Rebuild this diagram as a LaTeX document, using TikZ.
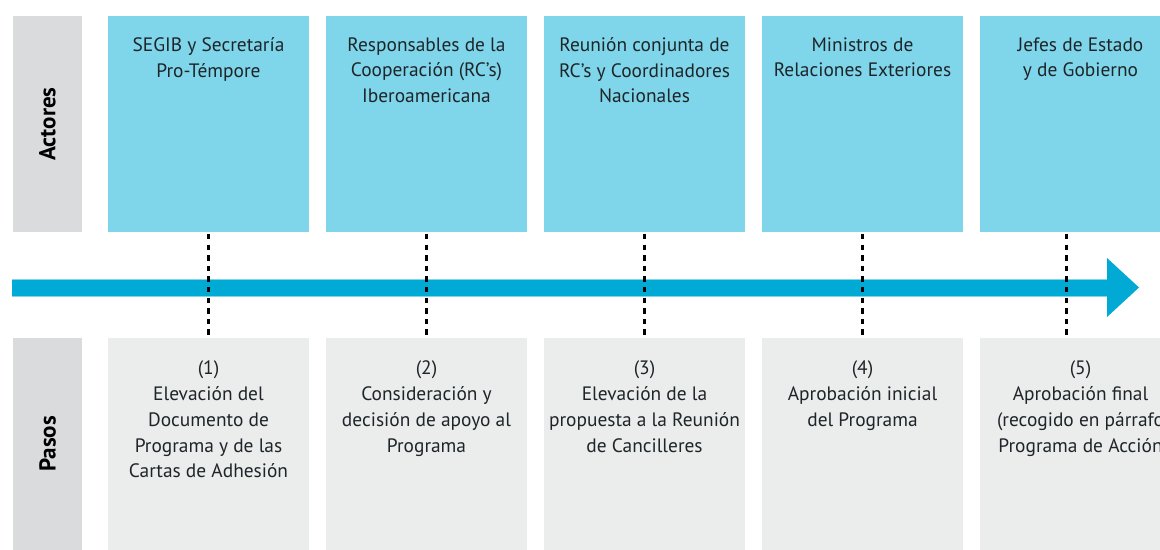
\documentclass[tikz,border=0pt]{standalone}
\usepackage{fontspec}
\setmainfont{PT Sans}
\usepackage{xcolor}
\usepackage{tikz}
\usetikzlibrary{positioning,calc}

\definecolor{actorblue}{HTML}{7FD6EA}
\definecolor{flowblue}{HTML}{00AAD4}
\definecolor{pasogray}{HTML}{EBECEC}
\definecolor{sidegray}{HTML}{DADBDD}
\definecolor{inkgray}{HTML}{1E2529}

\begin{document}
\begin{tikzpicture}[
  x=0.5pt, y=-0.5pt,
  font=\fontsize{9.7}{12.9}\selectfont,
  panel/.style={inner sep=0pt, outer sep=0pt, minimum width=100.5pt},
  actor/.style={panel, fill=actorblue, minimum height=108pt},
  paso/.style={panel, fill=pasogray, minimum height=106pt},
  side/.style={inner sep=0pt, outer sep=0pt, fill=sidegray, minimum width=34.5pt},
  sidetext/.style={rotate=90, font=\fontsize{11.5}{13}\selectfont\bfseries, text=black},
  boxtext/.style={align=center, inner sep=0pt, anchor=north, text=inkgray},
  dashline/.style={line width=1.1pt, dash pattern=on 2.7pt off 2.6pt, black}
]
\useasboundingbox (0,0) rectangle (1160,550);
% actores
\node[actor, anchor=north west] (act1) at (108,16) {};
\node[actor, right=8.5pt of act1] (act2) {};
\node[actor, right=8.5pt of act2] (act3) {};
\node[actor, right=8.5pt of act3] (act4) {};
\node[actor, right=8.5pt of act4] (act5) {};
% pasos
\node[paso, below=53pt of act1] (paso1) {};
\node[paso, below=53pt of act2] (paso2) {};
\node[paso, below=53pt of act3] (paso3) {};
\node[paso, below=53pt of act4] (paso4) {};
\node[paso, below=53pt of act5] (paso5) {};
% side column
\node[side, minimum height=108pt, anchor=north east] (sideact) at (82,16) {};
\node[side, minimum height=106pt, anchor=north east] (sidepaso) at (82,338) {};
\node[sidetext] at (sideact) {Actores};
\node[sidetext] at (sidepaso) {Pasos};
% texts
\node[boxtext] (acttext1) at ([yshift=-10.5pt]act1.north) {SEGIB y Secretaría\\Pro-Témpore};
\node[boxtext] (acttext2) at ([yshift=-10.5pt]act2.north) {Responsables de la\\Cooperación (RC’s)\\Iberoamericana};
\node[boxtext] (acttext3) at ([yshift=-10.5pt]act3.north) {Reunión conjunta de\\RC’s y Coordinadores\\Nacionales};
\node[boxtext] (acttext4) at ([yshift=-10.5pt]act4.north) {Ministros de\\Relaciones Exteriores};
\node[boxtext] (acttext5) at ([yshift=-10.5pt]act5.north) {Jefes de Estado\\y de Gobierno};
\node[boxtext] (pasotext1) at ([yshift=-11.2pt]paso1.north) {(1)\\Elevación del\\Documento de\\Programa y de las\\Cartas de Adhesión};
\node[boxtext] (pasotext2) at ([yshift=-11.2pt]paso2.north) {(2)\\Consideración y\\decisión de apoyo al\\Programa};
\node[boxtext] (pasotext3) at ([yshift=-11.2pt]paso3.north) {(3)\\Elevación de la\\propuesta a la Reunión\\de Cancilleres};
\node[boxtext] (pasotext4) at ([yshift=-11.2pt]paso4.north) {(4)\\Aprobación inicial\\del Programa};
\node[boxtext] (pasotext5) at ([yshift=-11.2pt]paso5.north) {(5)\\Aprobación final\\(recogido en párrafo\\Programa de Acción};
% timeline arrow
\coordinate (flowstart) at (12,287.5);
\coordinate (flowtip) at (1139,287.5);
\fill[flowblue] (12,279) rectangle (1107,296);
\draw[actorblue, line width=0.4pt] (12,279) -- (1107,279);
\draw[actorblue, line width=0.4pt] (12,296) -- (1107,296);
\fill[flowblue] (1107,258) -- (flowtip) -- (1107,317) -- cycle;
% links
\draw[dashline] ([yshift=-1pt]act1.south) -- ([yshift=1.5pt]paso1.north);
\draw[dashline] ([yshift=-1pt]act2.south) -- ([yshift=1.5pt]paso2.north);
\draw[dashline] ([yshift=-1pt]act3.south) -- ([yshift=1.5pt]paso3.north);
\draw[dashline] ([yshift=-1pt]act4.south) -- ([yshift=1.5pt]paso4.north);
\draw[dashline] ([xshift=-7pt,yshift=-1pt]act5.south) -- ([xshift=-7pt,yshift=1.5pt]paso5.north);
\end{tikzpicture}
\end{document}
